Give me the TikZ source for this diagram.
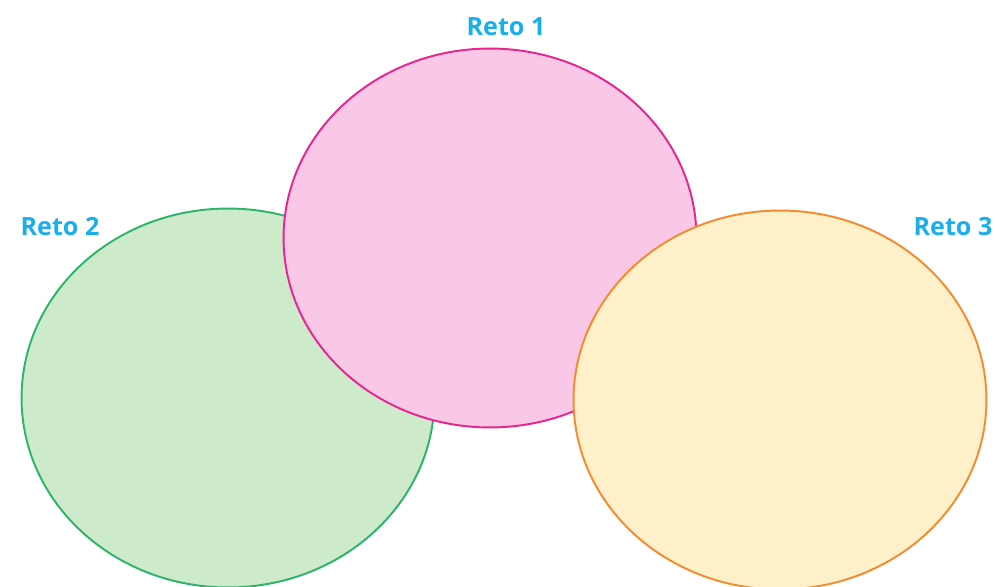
\documentclass[tikz,border=0pt]{standalone}
\usepackage{fontspec}
\setmainfont{Open Sans}
\usetikzlibrary{shapes.geometric}
\definecolor{retoblue}{HTML}{1AAEEB}
\definecolor{greenline}{HTML}{2EB46A}
\definecolor{greenfill}{HTML}{CDEACB}
\definecolor{pinkline}{HTML}{E8258F}
\definecolor{pinkfill}{HTML}{F8C8E6}
\definecolor{orangeline}{HTML}{F58A2F}
\definecolor{orangefill}{HTML}{FEF0C8}
\begin{document}
\begin{tikzpicture}[x=0.02cm,y=-0.02cm]
\tikzstyle{reto label}=[text=retoblue,font=\fontsize{14.3}{17}\selectfont\bfseries,inner sep=0]
\tikzset{
	reto oval/.style={ellipse,line width=1.1pt,inner sep=0,minimum width=8.26cm,minimum height=7.58cm},
	green oval/.style={reto oval,draw=greenline,fill=greenfill},
	pink oval/.style={reto oval,draw=pinkline,fill=pinkfill},
	orange oval/.style={reto oval,draw=orangeline,fill=orangefill}
}
\useasboundingbox (0,0) rectangle (995,587);
\node[green oval] (reto2) at (228,398) {};
\node[pink oval] (reto1) at (490,238) {};
\node[orange oval] (reto3) at (780,400) {};
\node[reto label] (label1) at (506,27) {Reto 1};
\node[reto label] (label2) at (60,227) {Reto 2};
\node[reto label] (label3) at (953,227) {Reto 3};
\end{tikzpicture}
\end{document}
